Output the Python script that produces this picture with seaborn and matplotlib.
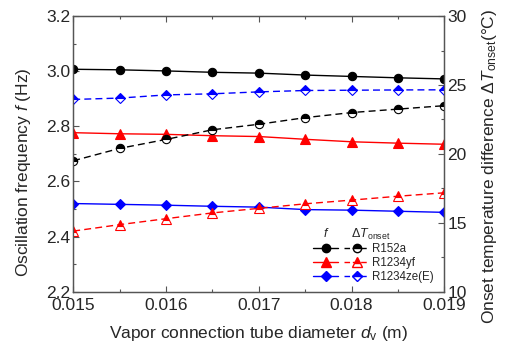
import matplotlib
matplotlib.use("Agg")
import matplotlib.pyplot as plt
import seaborn as sns
import numpy as np
from matplotlib.lines import Line2D
from matplotlib.legend_handler import HandlerTuple
from matplotlib.ticker import MultipleLocator, FormatStrFormatter

sns.set_style("ticks")
plt.rcParams['font.family'] = ['Liberation Sans', 'DejaVu Sans']
plt.rcParams['mathtext.fontset'] = 'custom'
plt.rcParams['mathtext.rm'] = 'Liberation Sans'
plt.rcParams['mathtext.it'] = 'Liberation Sans:italic'
plt.rcParams['mathtext.bf'] = 'Liberation Sans:bold'

diameter = [0.015, 0.0155, 0.016, 0.0165, 0.017, 0.0175, 0.018, 0.0185, 0.019]
refrigerants = ["R152a", "R1234yf", "R1234ze(E)"]
freq_R152a = [3.007, 3.005, 3.001, 2.996, 2.993, 2.986, 2.981, 2.976, 2.972]
freq_R1234yf = [2.777, 2.773, 2.771, 2.766, 2.763, 2.753, 2.744, 2.739, 2.735]
freq_R1234ze = [2.520, 2.517, 2.514, 2.510, 2.507, 2.498, 2.496, 2.492, 2.488]
dT_R152a = [19.5, 20.4, 21.05, 21.75, 22.15, 22.63, 23.0, 23.25, 23.5]
dT_R1234yf = [14.4, 14.87, 15.3, 15.72, 16.05, 16.38, 16.65, 16.93, 17.18]
dT_R1234ze = [23.95, 24.05, 24.28, 24.36, 24.5, 24.6, 24.62, 24.64, 24.65]

colors = ["black", "#ff0000", "#0000ff"]
markers = ["o", "^", "D"]
msizes = [6, 7, 5.5]
freqs = [freq_R152a, freq_R1234yf, freq_R1234ze]
dts = [dT_R152a, dT_R1234yf, dT_R1234ze]

fig = plt.figure(figsize=(5.12, 3.49), dpi=100)
ax = fig.add_axes([0.143, 0.164, 0.725, 0.79])
ax2 = ax.twinx()

handles = []
for c, m, ms, fv, dv in zip(colors, markers, msizes, freqs, dts):
    sns.lineplot(x=diameter, y=fv, ax=ax, color=c, marker=m, markersize=ms,
                 linestyle='-', linewidth=1.0, markeredgecolor=c,
                 markeredgewidth=0.8, markerfacecolor=c)
    sns.lineplot(x=diameter, y=dv, ax=ax2, color=c, marker=m, markersize=ms,
                 linestyle=(0, (5, 3)), linewidth=1.0, markeredgecolor=c,
                 markeredgewidth=0.8, fillstyle='top', markerfacecolor=c,
                 markerfacecoloralt='white')
    h1 = Line2D([], [], color=c, marker=m, markersize=ms, linestyle='-',
                linewidth=1.0, markeredgecolor=c, markerfacecolor=c)
    h2 = Line2D([], [], color=c, marker=m, markersize=ms, linestyle=(0, (4, 2)),
                linewidth=1.0, markeredgecolor=c, markerfacecolor=c,
                fillstyle='top', markerfacecoloralt='white')
    handles.append((h1, h2))

ax.set_xlim(0.015, 0.019)
ax.set_ylim(2.2, 3.2)
ax2.set_ylim(10, 30)
ax.xaxis.set_major_locator(MultipleLocator(0.001))
ax.xaxis.set_minor_locator(MultipleLocator(0.0005))
ax.yaxis.set_major_locator(MultipleLocator(0.2))
ax.yaxis.set_minor_locator(MultipleLocator(0.1))
ax2.yaxis.set_major_locator(MultipleLocator(5))
ax2.yaxis.set_minor_locator(MultipleLocator(2.5))
ax.xaxis.set_major_formatter(FormatStrFormatter('%.3f'))
ax.yaxis.set_major_formatter(FormatStrFormatter('%.1f'))

for a in (ax, ax2):
    a.tick_params(which='both', direction='in', labelsize=12.5, color='#555555')
    a.tick_params(which='major', length=4, width=0.8)
    a.tick_params(which='minor', length=2.5, width=0.8)
    for s in a.spines.values():
        s.set_color('#555555')
        s.set_linewidth(0.9)
ax.tick_params(axis='x', which='both', top=True, pad=4.5)
ax.tick_params(axis='y', which='both', left=True, right=False, pad=2)
ax2.tick_params(axis='y', which='both', right=True, pad=2)

ax.set_xlabel(r"Vapor connection tube diameter $d_{\mathrm{v}}$ (m)", fontsize=12.5)
ax.set_ylabel(r"Oscillation frequency $f$ (Hz)", fontsize=12.5)
ax2.set_ylabel(r"Onset temperature difference $\Delta T_{\mathrm{onset}}$(°C)", fontsize=12.5)
ax.xaxis.set_label_coords(0.5, -0.118)
ax.yaxis.set_label_coords(-0.108, 0.435)
ax2.yaxis.set_label_coords(1.095, 0.455)

leg = ax.legend(handles, refrigerants, handler_map={tuple: HandlerTuple(ndivide=None, pad=0.5)},
                loc='lower right', bbox_to_anchor=(0.995, 0.0), frameon=False, fontsize=8.3,
                handlelength=4.9, handletextpad=0.2, labelspacing=0.14, borderpad=0.3,
                title=r"   $f$       $\Delta T_{\mathrm{onset}}$", title_fontsize=9)
leg._legend_box.align = "left"

fig.savefig("out.png", dpi=100)
